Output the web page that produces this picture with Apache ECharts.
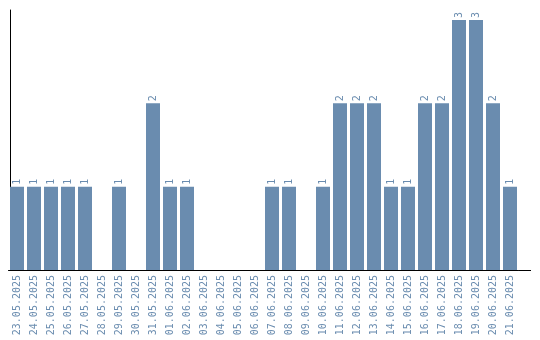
<!DOCTYPE html>
<html><head><meta charset="utf-8">
<script src="https://cdn.jsdelivr.net/npm/echarts@6/dist/echarts.min.js"></script>
<style>html,body{margin:0;padding:0;background:#fff}#c{width:540px;height:340px}</style>
</head><body><div id="c"></div>
<script>
var categories = ["23.05.2025","24.05.2025","25.05.2025","26.05.2025","27.05.2025","28.05.2025","29.05.2025","30.05.2025","31.05.2025","01.06.2025","02.06.2025","03.06.2025","04.06.2025","05.06.2025","06.06.2025","07.06.2025","08.06.2025","09.06.2025","10.06.2025","11.06.2025","12.06.2025","13.06.2025","14.06.2025","15.06.2025","16.06.2025","17.06.2025","18.06.2025","19.06.2025","20.06.2025","21.06.2025"];
var values = [1,1,1,1,1,0,1,0,2,1,1,0,0,0,0,1,1,0,1,2,2,2,1,1,2,2,3,3,2,1];
var color = '#6a8caf';
var chart = echarts.init(document.getElementById('c'), null, {renderer:'canvas'});
chart.setOption({
  animation:false,
  grid:{left:8.5, top:10, width:510, height:260, containLabel:false},
  graphic:[{type:'line', shape:{x1:518.5, y1:270.5, x2:531, y2:270.5}, style:{stroke:'#000', lineWidth:1}, silent:true}],
  xAxis:{type:'category', data:categories,
    axisLine:{lineStyle:{color:'#000', width:1}},
    axisTick:{show:false},
    axisLabel:{rotate:90, color:color, fontSize:10, fontFamily:'DejaVu Sans Mono', margin:5, interval:0}
  },
  yAxis:{type:'value', min:0, max:3.12, offset:-1.5,
    axisLine:{show:true, lineStyle:{color:'#000', width:1}},
    axisTick:{show:false}, axisLabel:{show:false}, splitLine:{show:false}
  },
  series:[{type:'bar', data:values.map(function(v){return v===0?null:v;}), barWidth:14,
    itemStyle:{color:color},
    label:{show:true, position:'top', rotate:90, align:'left', verticalAlign:'middle', distance:2,
      color:color, fontSize:10, fontFamily:'DejaVu Sans Mono'}
  }]
});
</script></body></html>
